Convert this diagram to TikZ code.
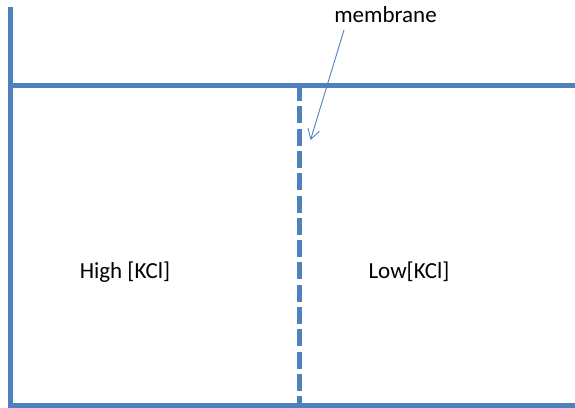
\documentclass[tikz,border=0pt]{standalone}
\usepackage{fontspec}
\setmainfont{Carlito}
\usetikzlibrary{arrows.meta}
\definecolor{wallblue}{RGB}{79,129,189}

\begin{document}
\begin{tikzpicture}[x=1pt,y=-1pt,
  wall/.style={wallblue,line width=4.6pt},
  membr/.style={wallblue,line width=4.6pt,dash pattern=on 17pt off 5.3pt},
  pointer/.style={wallblue,line width=0.9pt,-{Straight Barb[length=10pt,width=12pt]}},
  lbl/.style={font=\fontsize{23}{27}\selectfont,inner sep=0pt,anchor=base}]
\useasboundingbox (0,0) rectangle (575,407);
% tank walls
\draw[wall] (10.5,7) -- (10.5,405.5) -- (575,405.5);
\draw[wall] (10.5,85.5) -- (575,85.5);
% membrane
\draw[membr] (299.5,84) -- (299.5,405);
\node[lbl] (memb) at (385.5,22) {membrane};
\node[lbl] (high) at (125,278) {High [KCl]};
\node[lbl] (low) at (409,278) {Low[KCl]};
\coordinate (tail) at (344,30);
\coordinate (tip) at (310.5,140);
\draw[pointer] (tail) -- (tip);
\end{tikzpicture}
\end{document}
